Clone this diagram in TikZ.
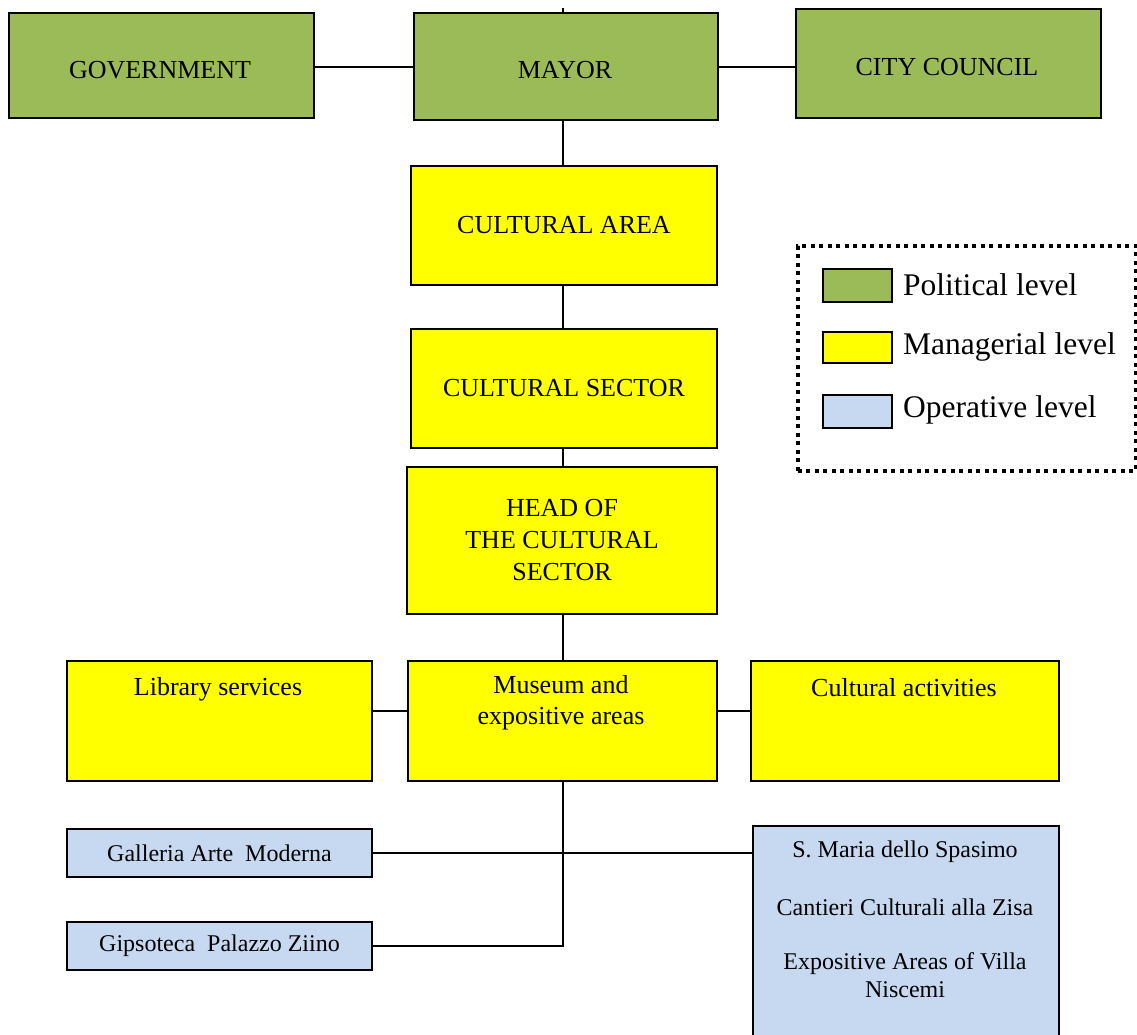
\documentclass[tikz,border=0pt]{standalone}
\usepackage{fontspec}
\setmainfont{Liberation Serif}
\definecolor{polgreen}{HTML}{9BBB59}
\definecolor{mgryellow}{HTML}{FFFF00}
\definecolor{opblue}{HTML}{C6D9F1}
\begin{document}
\begin{tikzpicture}[x=1pt,y=-1pt,
  box/.style={draw=black, line width=2pt, inner sep=0pt, anchor=north west, align=center},
  pol/.style={box, fill=polgreen},
  mgr/.style={box, fill=mgryellow},
  opr/.style={box, fill=opblue},
  big/.style={font=\fontsize{26}{32}\selectfont},
  small/.style={font=\fontsize{24}{28}\selectfont},
  leg/.style={font=\fontsize{31.5}{36}\selectfont, anchor=west, inner sep=0pt},
  txt/.style={inner sep=0pt, align=center},
  link/.style={draw=black, line width=2pt}]
\useasboundingbox (0,0) rectangle (1137,1035);

% political level
\node[pol, minimum width=305pt, minimum height=105pt] (gov) at (8,12) {};
\node[pol, minimum width=304pt, minimum height=107pt] (mayor) at (413,12) {};
\node[pol, minimum width=305pt, minimum height=109pt] (council) at (795,8) {};
\node[txt, big] (govtxt) at (160,70) {GOVERNMENT};
\node[txt, big] (mayortxt) at (565,70) {MAYOR};
\node[txt, big] (counciltxt) at (947,67) {CITY COUNCIL};

% managerial level
\node[mgr, big, minimum width=306pt, minimum height=119pt] (area) at (410,165) {CULTURAL AREA};
\node[mgr, big, minimum width=306pt, minimum height=119pt] (sector) at (410,328) {CULTURAL SECTOR};
\node[mgr, big, minimum width=310pt, minimum height=147pt] (head) at (406,466) {HEAD OF\\THE CULTURAL\\SECTOR};
\node[mgr, minimum width=305pt, minimum height=120pt] (library) at (66,660) {};
\node[mgr, minimum width=309pt, minimum height=120pt] (museum) at (407,660) {};
\node[mgr, minimum width=308pt, minimum height=120pt] (activities) at (750,660) {};
\node[txt, big] (librarytxt) at (218,689) {Library services};
\node[txt, font=\fontsize{26}{31}\selectfont] (museumtxt) at (561,703) {Museum and\\expositive areas};
\node[txt, big] (activitiestxt) at (904,688) {Cultural activities};

% operative level
\node[opr, small, minimum width=305pt, minimum height=48pt] (gal) at (66,828) {Galleria Arte\ \ Moderna};
\node[opr, small, minimum width=305pt, minimum height=48pt] (gips) at (66,921) {Gipsoteca\ \ Palazzo Ziino};
\node[opr, minimum width=306pt, minimum height=215pt] (spas) at (752,825) {};
\node[txt, small] (spas1) at (905,852) {S. Maria dello Spasimo};
\node[txt, small] (spas2) at (905,907) {Cantieri Culturali alla Zisa};
\node[txt, font=\fontsize{24}{28}\selectfont] (spas3) at (905,975) {Expositive Areas of Villa\\Niscemi};

% connectors
\coordinate (stub) at (563,8);
\coordinate (toprow) at (0,67);
\coordinate (sideline) at (0,711);
\draw[link] (stub) -- (mayor.north -| stub);
\draw[link] (gov.east |- toprow) -- (mayor.west |- toprow);
\draw[link] (mayor.east |- toprow) -- (council.west |- toprow);
\draw[link] (mayor.south -| stub) -- (area.north -| stub);
\draw[link] (area.south -| stub) -- (sector.north -| stub);
\draw[link] (sector.south -| stub) -- (head.north -| stub);
\draw[link] (head.south -| stub) -- (museum.north -| stub);
\draw[link] (library.east |- sideline) -- (museum.west |- sideline);
\draw[link] (museum.east |- sideline) -- (activities.west |- sideline);
\draw[link] (museum.south -| stub) |- (gips.east);
\draw[link] (gal.east) -- (spas.west |- gal.east);

% legend
\node[draw=black, line width=3.5pt, dash pattern=on 4pt off 4.5pt, minimum width=338pt, minimum height=225pt, anchor=north west, inner sep=0pt] (legend) at (796,244) {};
\node[box, fill=polgreen, line width=1.8pt, minimum width=69pt, minimum height=33pt] (legpol) at (822,268) {};
\node[box, fill=mgryellow, line width=1.8pt, minimum width=69pt, minimum height=31pt] (legmgr) at (822,331) {};
\node[box, fill=opblue, line width=1.8pt, minimum width=69pt, minimum height=33pt] (legopr) at (822,394) {};
\node[leg] (legpoltxt) at (903,285) {Political level};
\node[leg] (legmgrtxt) at (903,347) {Managerial level};
\node[leg] (legoprtxt) at (903,410) {Operative level};
\end{tikzpicture}
\end{document}
